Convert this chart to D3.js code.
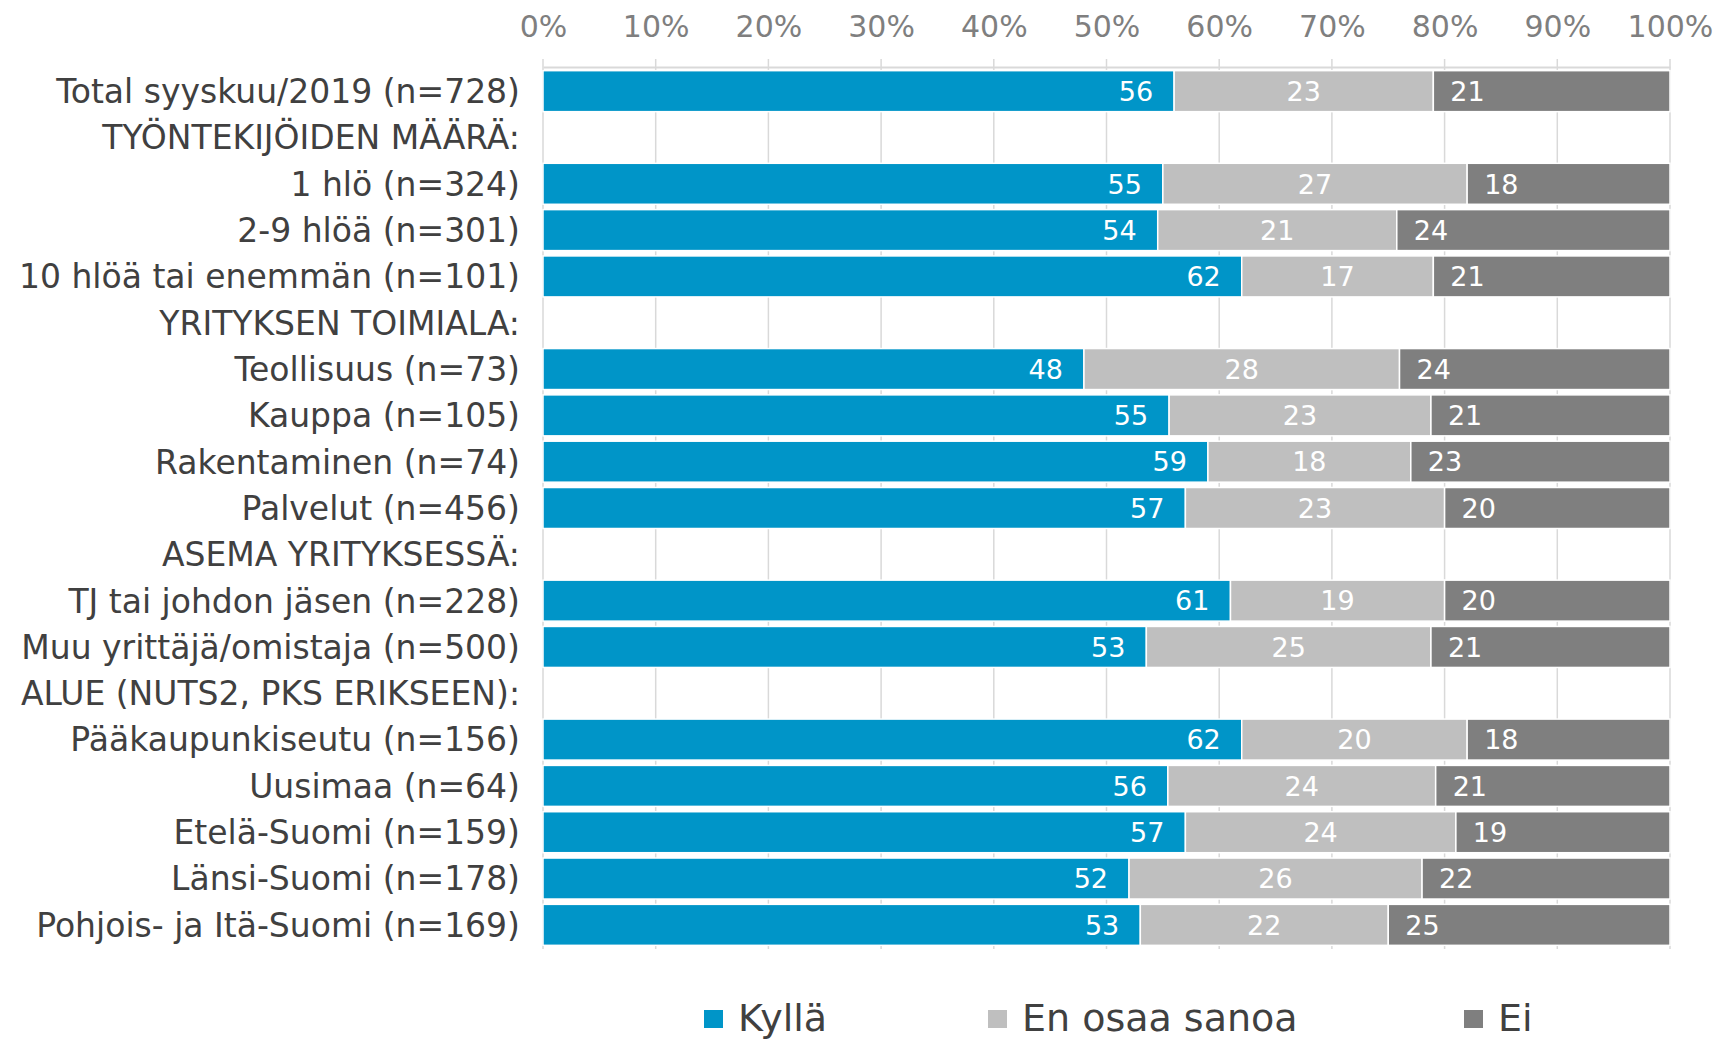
<!DOCTYPE html>
<html>
<head>
<meta charset="utf-8">
<script src="https://cdn.jsdelivr.net/npm/d3@7"></script>
<style>
  html, body { margin: 0; padding: 0; background: #fff; overflow: hidden; }
  svg { display: block; font-family: "DejaVu Sans", Verdana, sans-serif; }
</style>
</head>
<body>
<div id="chart"></div>
<script>
// Stacked 100% bar chart: Kyllä / En osaa sanoa / Ei by respondent group

const categories = [
    "Total syyskuu/2019 (n=728)",
    "TYÖNTEKIJÖIDEN MÄÄRÄ:",
    "1 hlö (n=324)",
    "2-9 hlöä (n=301)",
    "10 hlöä tai enemmän (n=101)",
    "YRITYKSEN TOIMIALA:",
    "Teollisuus (n=73)",
    "Kauppa (n=105)",
    "Rakentaminen (n=74)",
    "Palvelut (n=456)",
    "ASEMA YRITYKSESSÄ:",
    "TJ tai johdon jäsen (n=228)",
    "Muu yrittäjä/omistaja (n=500)",
    "ALUE (NUTS2, PKS ERIKSEEN):",
    "Pääkaupunkiseutu (n=156)",
    "Uusimaa (n=64)",
    "Etelä-Suomi (n=159)",
    "Länsi-Suomi (n=178)",
    "Pohjois- ja Itä-Suomi (n=169)"
];

// null = section header row (no bar)
const kylla = [56, null, 55, 54, 62, null, 48, 55, 59, 57, null, 61, 53, null, 62, 56, 57, 52, 53];
const eos   = [23, null, 27, 21, 17, null, 28, 23, 18, 23, null, 19, 25, null, 20, 24, 24, 26, 22];
const ei    = [21, null, 18, 24, 21, null, 24, 21, 23, 20, null, 20, 21, null, 18, 21, 19, 22, 25];

const seriesNames = ["Kyllä", "En osaa sanoa", "Ei"];
const seriesColors = ["#0095c8", "#bfbfbf", "#7f7f7f"];
const tickValues = [0, 0.1, 0.2, 0.3, 0.4, 0.5, 0.6, 0.7, 0.8, 0.9, 1];

const width = 1716;
const height = 1041;

const svg = d3.select("#chart")
    .append("svg")
    .attr("width", width)
    .attr("height", height);

// Scales
const x = d3.scaleLinear()
    .domain([0, 1])
    .range([543, 1670]);

const y = d3.scaleBand()
    .domain(categories)
    .range([68, 948])
    .paddingInner(0.115)
    .paddingOuter(0.0575);

// Gridlines
svg.append("g")
    .selectAll("line")
    .data(tickValues)
    .enter()
    .append("line")
    .attr("x1", d => x(d))
    .attr("x2", d => x(d))
    .attr("y1", 59)
    .attr("y2", 949)
    .attr("stroke", "#d9d9d9")
    .attr("stroke-width", 1.5);

// Top axis
const axis = svg.append("g")
    .attr("transform", "translate(0,67)")
    .call(d3.axisTop(x)
        .tickValues(tickValues)
        .tickFormat(d3.format(".0%"))
        .tickSize(0)
        .tickPadding(30));
axis.select(".domain")
    .attr("stroke", "#d9d9d9")
    .attr("stroke-width", 2);
axis.selectAll("text")
    .attr("fill", "#7f7f7f")
    .attr("font-size", "30px")
    .attr("font-family", "DejaVu Sans, Verdana, sans-serif");

// Category labels
svg.append("g")
    .selectAll("text")
    .data(categories)
    .enter()
    .append("text")
    .attr("x", 520)
    .attr("y", d => y(d) + y.bandwidth() / 2)
    .attr("dy", "0.36em")
    .attr("text-anchor", "end")
    .attr("fill", "#404040")
    .attr("font-size", "33px")
    .text(d => d);

// Build stacked rows (normalised so each bar spans 0-100%)
const rows = categories.map((c, i) => {
    if (kylla[i] === null) return null;
    const vals = [kylla[i], eos[i], ei[i]];
    const total = d3.sum(vals);
    let acc = 0;
    return vals.map((v, k) => {
        const seg = { cat: c, series: k, value: v, x0: acc / total, x1: (acc + v) / total };
        acc += v;
        return seg;
    });
}).filter(r => r !== null).flat();

// Bars
svg.append("g")
    .selectAll("rect")
    .data(rows)
    .enter()
    .append("rect")
    .attr("x", d => x(d.x0))
    .attr("y", d => y(d.cat))
    .attr("width", d => x(d.x1) - x(d.x0))
    .attr("height", y.bandwidth())
    .attr("fill", d => seriesColors[d.series])
    .attr("stroke", "#fff")
    .attr("stroke-width", 1.5);

// Data labels: inside end / centre / inside base
svg.append("g")
    .selectAll("text")
    .data(rows)
    .enter()
    .append("text")
    .attr("x", d => {
        if (d.series === 0) return x(d.x1) - 21;
        if (d.series === 1) return (x(d.x0) + x(d.x1)) / 2;
        return x(d.x0) + 17;
    })
    .attr("y", d => y(d.cat) + y.bandwidth() / 2)
    .attr("dy", "0.36em")
    .attr("text-anchor", d => d.series === 0 ? "end" : d.series === 1 ? "middle" : "start")
    .attr("fill", "#fff")
    .attr("font-size", "27px")
    .text(d => d.value);

// Legend
const legendX = [704, 988, 1464];
const legend = svg.append("g")
    .selectAll("g")
    .data(seriesNames)
    .enter()
    .append("g")
    .attr("transform", (d, i) => `translate(${legendX[i]},1010)`);

legend.append("rect")
    .attr("width", 19)
    .attr("height", 18)
    .attr("fill", (d, i) => seriesColors[i]);

legend.append("text")
    .attr("x", 34)
    .attr("y", 21)
    .attr("fill", "#404040")
    .attr("font-size", "38px")
    .text(d => d);
</script>
</body>
</html>
